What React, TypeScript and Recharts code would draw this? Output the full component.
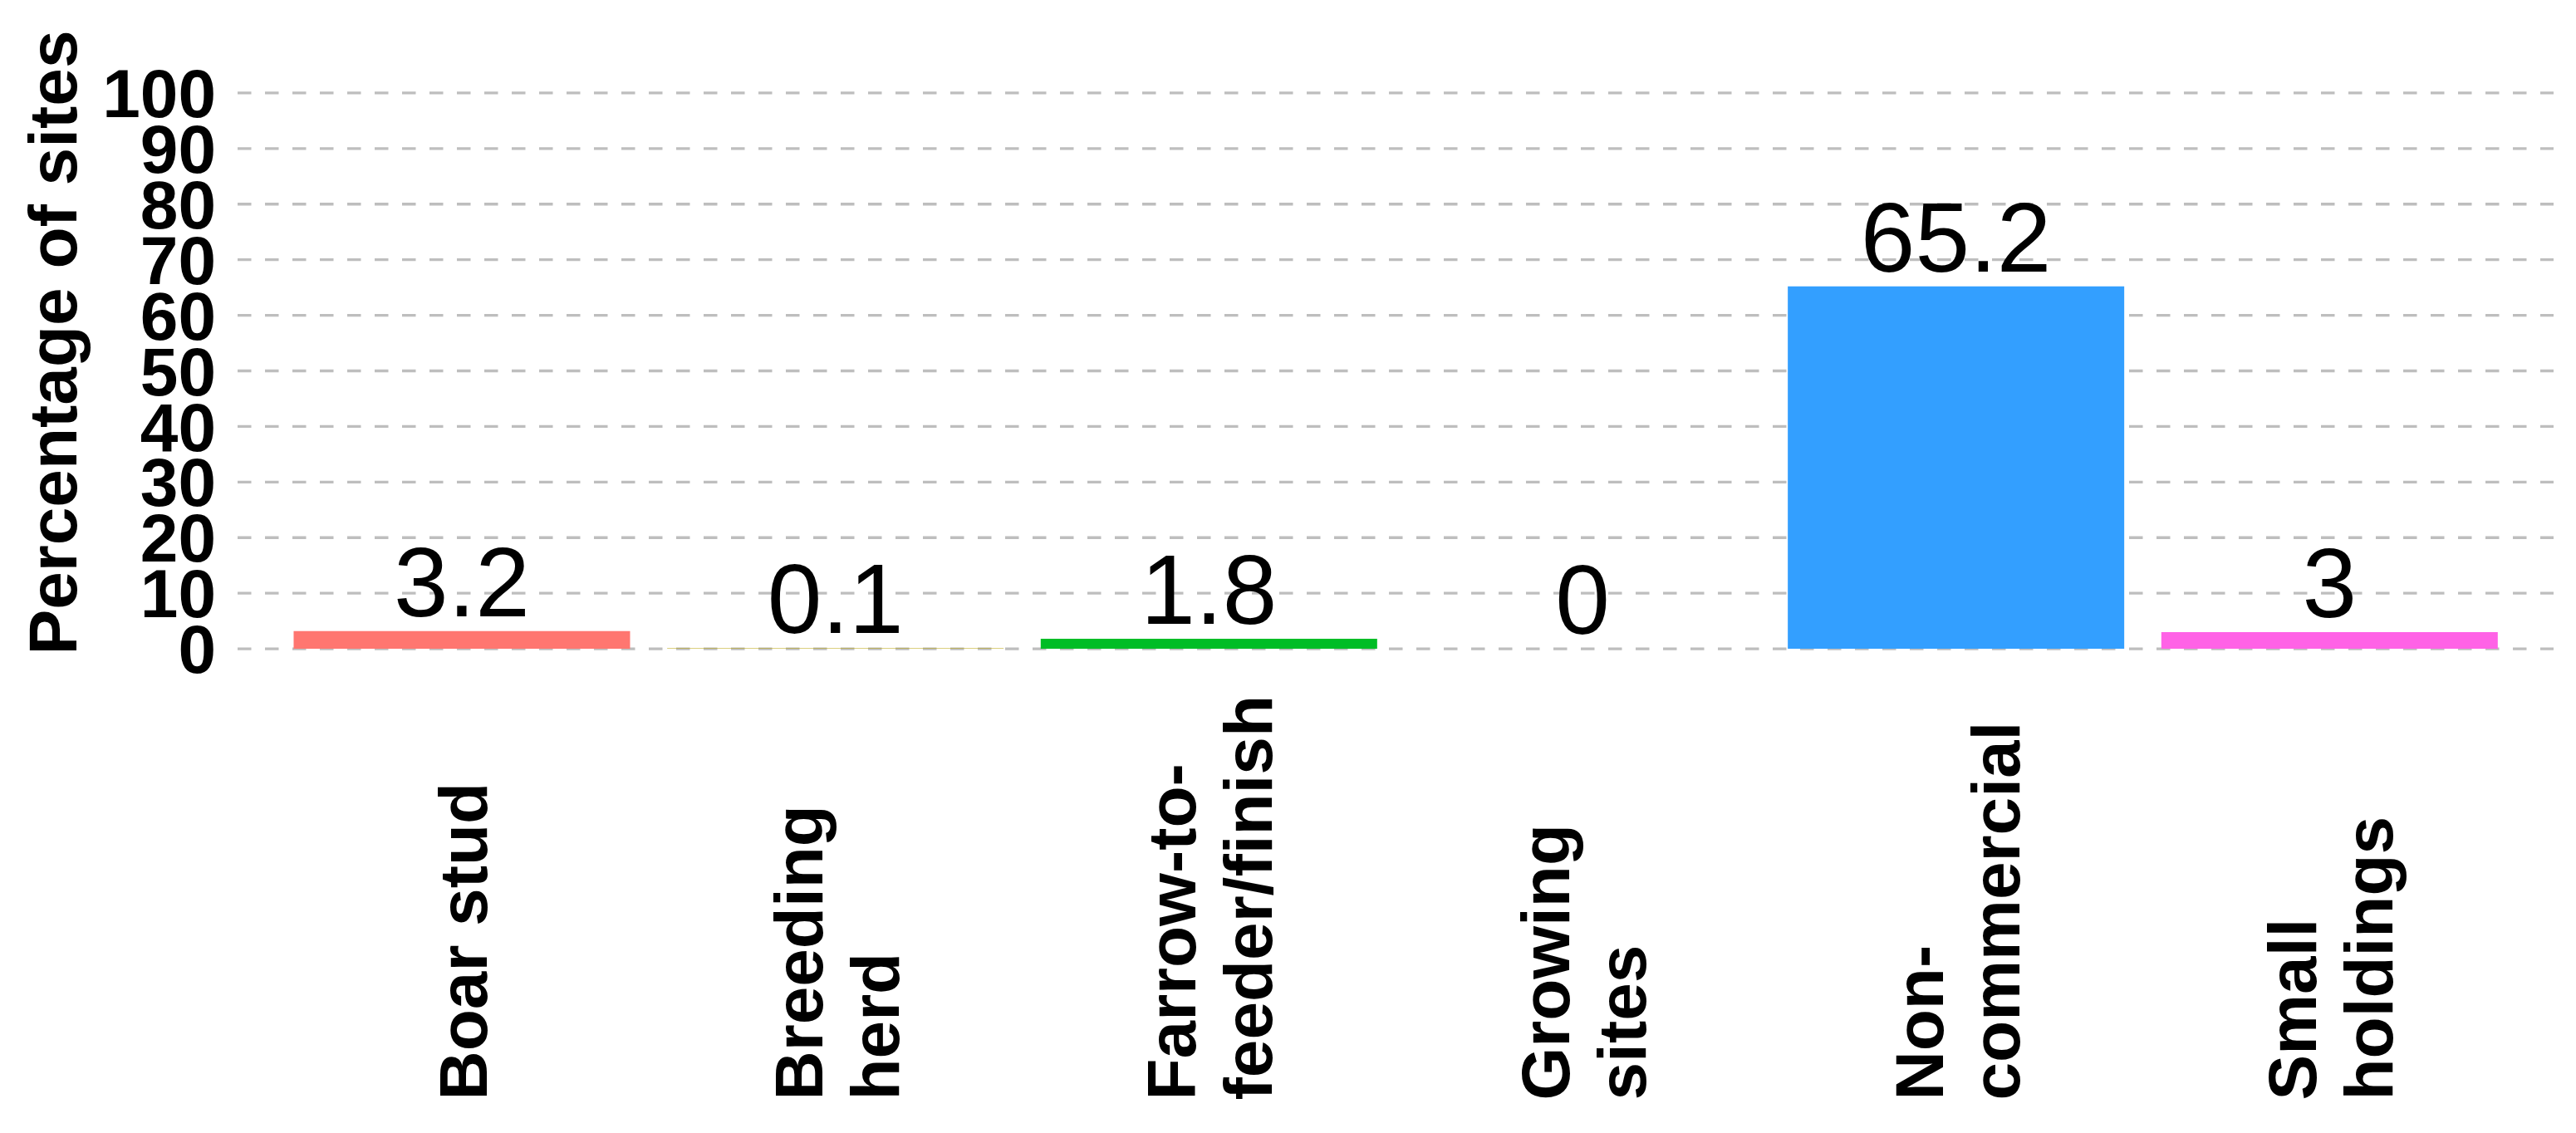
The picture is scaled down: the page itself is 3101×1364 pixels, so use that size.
import React from "react";
import { BarChart, Bar, XAxis, YAxis, CartesianGrid, Cell, LabelList, Label } from "recharts";

const categories = [
  "Boar stud",
  "Breeding\nherd",
  "Farrow-to-\nfeeder/finish",
  "Growing\nsites",
  "Non-\ncommercial",
  "Small\nholdings",
];
const percentages = [3.2, 0.1, 1.8, 0, 65.2, 3];
const barColors = ["#FF7670", "#B79F00", "#00BD26", "#00BFC4", "#339FFF", "#FF62E6"];
const yTicks = [0, 10, 20, 30, 40, 50, 60, 70, 80, 90, 100];

const data = categories.map((c, i) => ({ category: c, value: percentages[i] }));

const FONT = "'Liberation Sans', Arial, Helvetica, sans-serif";

function XTick(props: any) {
  const { x, y, payload } = props;
  const lines = String(payload.value).split("\n");
  const n = lines.length;
  const bottom = y + 502;
  return (
    <g>
      {lines.map((line, i) => {
        const bx = x + 30 + (i - (n - 1) / 2) * 92;
        return (
          <text
            key={i}
            x={bx}
            y={bottom}
            transform={`rotate(-90, ${bx}, ${bottom})`}
            textAnchor="start"
            fontFamily={FONT}
            fontWeight="bold"
            fontSize={82}
            fill="#000"
          >
            {line}
          </text>
        );
      })}
    </g>
  );
}

function YTitle(props: any) {
  const { viewBox } = props;
  const cx = viewBox.x + 92;
  const cy = viewBox.y + viewBox.height / 2 - 34;
  return (
    <text
      x={cx}
      y={cy}
      transform={`rotate(-90, ${cx}, ${cy})`}
      textAnchor="middle"
      fontFamily={FONT}
      fontWeight="bold"
      fontSize={82}
      fill="#000"
    >
      Percentage of sites
    </text>
  );
}

function ValueLabel(props: any) {
  const { x, y, width, value } = props;
  if (x == null || y == null) return null;
  return (
    <text
      x={Number(x) + Number(width) / 2}
      y={Number(y) - 18}
      textAnchor="middle"
      fontFamily={FONT}
      fontSize={118}
      fill="#000"
    >
      {String(value)}
    </text>
  );
}

export default function App() {
  return (
    <div style={{ position: "absolute", left: 0, top: 0, background: "#fff" }}>
      <BarChart
        width={3101}
        height={1364}
        data={data}
        margin={{ top: 78.5, right: 27, bottom: 0, left: 0 }}
        barCategoryGap="5%"
      >
        <CartesianGrid
          vertical={false}
          horizontalValues={yTicks}
          stroke="#BEBEBE"
          strokeWidth={3.3}
          strokeDasharray="16.5 16.5"
        />
        <XAxis
          dataKey="category"
          interval={0}
          tickLine={false}
          axisLine={false}
          height={549.5}
          padding={{ left: 45, right: 45 }}
          tick={<XTick />}
        />
        <YAxis
          type="number"
          domain={[-5, 105]}
          ticks={yTicks}
          interval={0}
          width={286}
          tickLine={false}
          axisLine={false}
          tickMargin={20}
          tick={{ fontSize: 82, fontWeight: "bold", fill: "#000", fontFamily: FONT }}
        >
          <Label content={<YTitle />} />
        </YAxis>
        <Bar dataKey="value" minPointSize={0.01} isAnimationActive={false}>
          {data.map((d, i) => (
            <Cell key={d.category} fill={barColors[i]} />
          ))}
          <LabelList dataKey="value" content={<ValueLabel />} />
        </Bar>
      </BarChart>
    </div>
  );
}
